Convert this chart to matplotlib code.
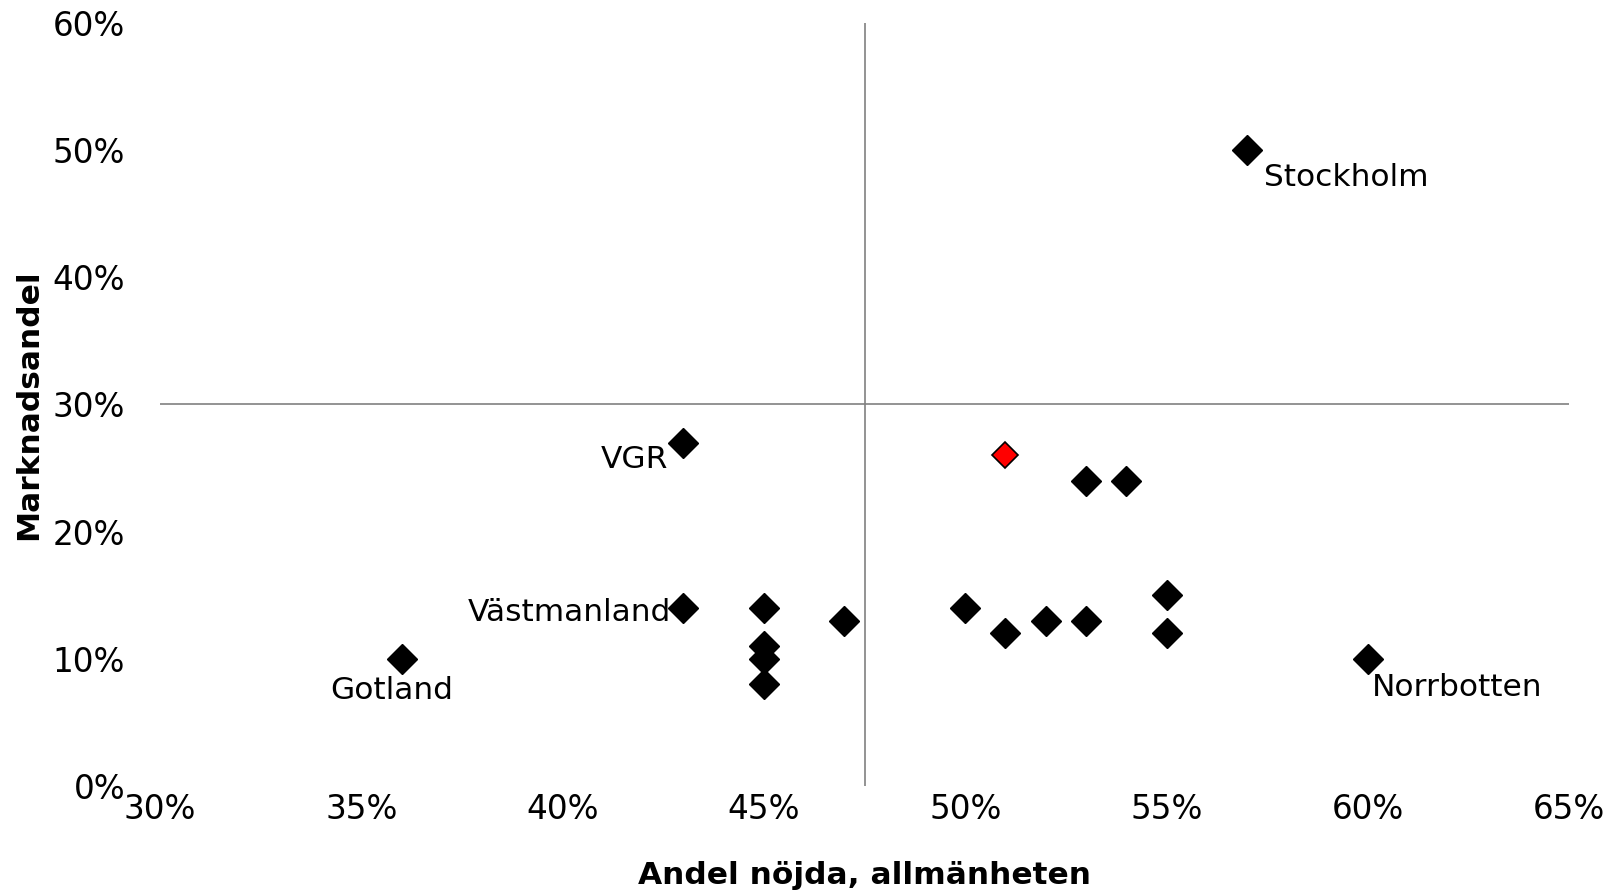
import matplotlib
matplotlib.use("Agg")
import matplotlib.pyplot as plt

# Andel nöjda (x) och marknadsandel (y), i procent
x_vals = [57, 43, 53, 54, 43, 45, 45, 45, 45, 47, 50, 51, 52, 53, 55, 55, 60, 36]
y_vals = [50, 27, 24, 24, 14, 14, 11, 10, 8, 13, 14, 12, 13, 13, 15, 12, 10, 10]

# markerad punkt (röd)
hl_x = [51]
hl_y = [26]

# etiketter: namn, x, y, offset (pt), ha
labels = [
    ("Stockholm", 57, 50, (12, -20), "left"),
    ("VGR", 43, 27, (-11, -12), "right"),
    ("Västmanland", 43, 14, (-9, -3), "right"),
    ("Gotland", 36, 10, (-7, -23), "center"),
    ("Norrbotten", 60, 10, (3, -21), "left"),
]

x_ticks = [30, 35, 40, 45, 50, 55, 60, 65]
y_ticks = [0, 10, 20, 30, 40, 50, 60]
x_cross = 47.5
y_cross = 30

plt.rcParams['font.family'] = ['DejaVu Sans']

fig = plt.figure(figsize=(16.21, 8.93), dpi=100)
ax = fig.add_axes([0.0987, 0.1198, 0.8693, 0.8548])

ax.axvline(x_cross, color='#808080', lw=1.2, zorder=1)
ax.axhline(y_cross, color='#808080', lw=1.2, zorder=1)

ax.plot(x_vals, y_vals, linestyle='none', marker='D', ms=15.5,
        color='black', zorder=3, clip_on=False)
ax.plot(hl_x, hl_y, linestyle='none', marker='D', ms=13.5,
        markerfacecolor='#ff0000', markeredgecolor='black', mew=1.2,
        zorder=4, clip_on=False)

for name, lx, ly, off, ha in labels:
    ax.annotate(name, (lx, ly), xytext=off, textcoords='offset points',
                ha=ha, va='center', fontsize=22.5)

ax.set_xlim(30, 65)
ax.set_ylim(0, 60)
ax.set_xticks(x_ticks)
ax.set_yticks(y_ticks)
ax.set_xticklabels([f"{v}%" for v in x_ticks], fontsize=23.5)
ax.set_yticklabels([f"{v}%" for v in y_ticks], fontsize=23.5)
ax.tick_params(axis='both', length=0)
ax.tick_params(axis='y', pad=25)
ax.tick_params(axis='x', pad=5)

for sp in ax.spines.values():
    sp.set_visible(False)

ax.set_xlabel("Andel nöjda, allmänheten", fontsize=22.5, fontweight='bold')
ax.set_ylabel("Marknadsandel", fontsize=22.5, fontweight='bold')
ax.xaxis.label.set_va('center')
ax.yaxis.label.set_va('center')
ax.xaxis.set_label_coords(0.5, -0.1166)
ax.yaxis.set_label_coords(-0.093, 0.5)

fig.savefig("out.png", dpi=100, facecolor='white')
